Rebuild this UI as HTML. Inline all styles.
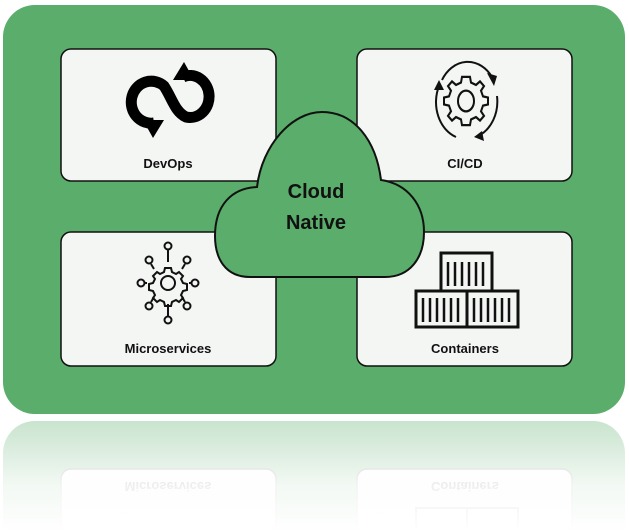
<!DOCTYPE html>
<html><head><meta charset="utf-8"><style>
html,body{margin:0;padding:0;background:#fff;width:629px;height:532px;overflow:hidden}
svg{display:block}
svg text{font-family:"Liberation Sans",sans-serif;font-weight:bold}
</style></head><body>
<svg width="629" height="532" viewBox="0 0 629 532" xmlns="http://www.w3.org/2000/svg">
<defs>
<linearGradient id="fade" x1="0" y1="0" x2="0" y2="1">
<stop offset="0" stop-color="#fff" stop-opacity="0.3"/>
<stop offset="0.6" stop-color="#fff" stop-opacity="0.85"/>
<stop offset="1" stop-color="#fff" stop-opacity="1"/>
</linearGradient>
<clipPath id="c"><rect x="0" y="0" width="629" height="532"/></clipPath>
</defs>
<g clip-path="url(#c)">
<!-- reflection -->
<g transform="translate(0,835) scale(1,-1)" opacity="0.5">
<rect x="3" y="5" width="622" height="409" rx="32" fill="#5aad6a"/>
<rect x="61" y="232" width="215" height="134" rx="10" fill="#f4f6f4" stroke="#555" stroke-width="1.5"/>
<rect x="357" y="232" width="215" height="134" rx="10" fill="#f4f6f4" stroke="#555" stroke-width="1.5"/>
<g fill="none" stroke="#333" stroke-width="2"><rect x="416" y="291" width="102" height="36"/><line x1="467" y1="291" x2="467" y2="327"/></g>
<text x="168" y="353" font-size="13" text-anchor="middle" fill="#222">Microservices</text>
<text x="465" y="353" font-size="13" text-anchor="middle" fill="#222">Containers</text>
</g>
<rect x="0" y="414" width="629" height="118" fill="url(#fade)"/>
</g>

<!-- main panel -->
<rect x="3" y="5" width="622" height="409" rx="32" fill="#5aad6a"/>
<rect x="61" y="49" width="215" height="132" rx="10" fill="#f4f6f4" stroke="#111" stroke-width="1.5"/>
<rect x="357" y="49" width="215" height="132" rx="10" fill="#f4f6f4" stroke="#111" stroke-width="1.5"/>
<rect x="61" y="232" width="215" height="134" rx="10" fill="#f4f6f4" stroke="#111" stroke-width="1.5"/>
<rect x="357" y="232" width="215" height="134" rx="10" fill="#f4f6f4" stroke="#111" stroke-width="1.5"/>

<text x="168" y="168" font-size="13" text-anchor="middle" fill="#111">DevOps</text>
<text x="465" y="168" font-size="13" text-anchor="middle" fill="#111">CI/CD</text>
<text x="168" y="353" font-size="13" text-anchor="middle" fill="#111">Microservices</text>
<text x="465" y="353" font-size="13" text-anchor="middle" fill="#111">Containers</text>

<!-- DevOps icon -->
<path d="M154 123 A20 21 0 1 1 164 86 C172 98 175 112 186 117 A19 21 0 1 0 183 77" fill="none" stroke="#000" stroke-width="11"/>
<polygon points="143,120 164,120 153,138" fill="#000"/>
<polygon points="173,80 194,80 184,62" fill="#000"/>

<!-- CI/CD icon -->
<g fill="none" stroke="#111" stroke-width="2">
<g transform="translate(466,101) scale(1,1.15) translate(-466,-101)">
<ellipse cx="466" cy="101" rx="8" ry="9"/>
<path d="M466 80 l4 0 1 5 5 2 4-3 4 4 -3 4 2 5 5 1 0 6 -5 1 -2 5 3 4 -4 4 -4-3 -5 2 -1 5 -8 0 -1-5 -5-2 -4 3 -4-4 3-4 -2-5 -5-1 0-6 5-1 2-5 -3-4 4-4 4 3 5-2 1-5z"/>
</g>
<path d="M442 80 A30 37 0 0 1 492 77"/>
<path d="M497 96 A30 37 0 0 1 478 136"/>
<path d="M456 137 A30 37 0 0 1 439 86"/>
</g>
<g fill="#111">
<polygon points="487,73 497,76 494,86"/>
<polygon points="482,131 484,141 474,137"/>
<polygon points="434,90 439,80 444,90"/>
</g>

<!-- Microservices icon -->
<g fill="none" stroke="#111" stroke-width="2">
<circle cx="168" cy="283" r="7"/>
<path d="M168 268 l3 0 1 4 4 2 3-2 4 4 -2 3 2 4 4 1 0 6 -4 1 -2 4 2 3 -4 4 -3-2 -4 2 -1 4 -6 0 -1-4 -4-2 -3 2 -4-4 2-3 -2-4 -4-1 0-6 4-1 2-4 -2-3 4-4 3 2 4-2 1-4z"/>
<line x1="168" y1="262" x2="168" y2="250"/><circle cx="168" cy="246" r="3.5"/>
<line x1="168" y1="304" x2="168" y2="316"/><circle cx="168" cy="320" r="3.5"/>
<line x1="147" y1="283" x2="145" y2="283"/><circle cx="141" cy="283" r="3.5"/>
<line x1="189" y1="283" x2="191" y2="283"/><circle cx="195" cy="283" r="3.5"/>
<line x1="154" y1="269" x2="151" y2="264"/><circle cx="149" cy="260" r="3.5"/>
<line x1="182" y1="269" x2="185" y2="264"/><circle cx="187" cy="260" r="3.5"/>
<line x1="154" y1="297" x2="151" y2="302"/><circle cx="149" cy="306" r="3.5"/>
<line x1="182" y1="297" x2="185" y2="302"/><circle cx="187" cy="306" r="3.5"/>
</g>

<!-- Containers icon -->
<g fill="none" stroke="#111" stroke-width="3">
<rect x="441" y="253" width="51" height="38"/>
<rect x="416" y="291" width="51" height="36"/>
<rect x="467" y="291" width="51" height="36"/>
</g>
<g stroke="#111" stroke-width="2.5">
<path d="M448 262v24M455 262v24M462 262v24M469 262v24M476 262v24M483 262v24"/>
<path d="M423 298v24M430 298v24M437 298v24M444 298v24M451 298v24M458 298v24"/>
<path d="M474 298v24M481 298v24M488 298v24M495 298v24M502 298v24M509 298v24"/>
</g>

<!-- Cloud -->
<path d="M250 277 C225 277 215 258 215 236 C215 205 232 188 257 187 C262 145 292 112 322 112 C354 112 376 140 381 180 C408 184 424 205 424 232 C424 258 410 277 385 277 Z" fill="#5aad6a" stroke="#111" stroke-width="2"/>
<text x="316" y="198" font-size="20" text-anchor="middle" fill="#111">Cloud</text>
<text x="316" y="229" font-size="20" text-anchor="middle" fill="#111">Native</text>
</svg>
</body></html>
